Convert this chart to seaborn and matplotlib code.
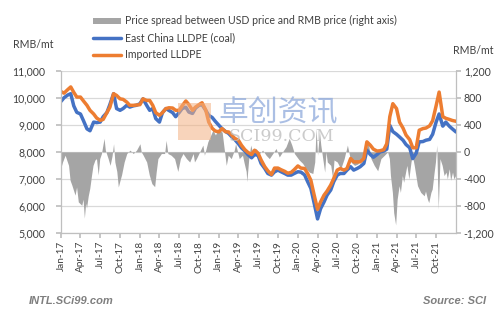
import pandas as pd
import matplotlib
matplotlib.use("Agg")
import matplotlib.pyplot as plt
from matplotlib.ticker import FuncFormatter, FixedLocator
from matplotlib.patches import Patch, Rectangle
from matplotlib.lines import Line2D
import seaborn as sns

# Semi-monthly LLDPE prices, RMB/mt (Jan 2017 - Jan 2022)
price_dates = pd.date_range("2017-01-01", periods=121, freq="SMS")
east_china = [
    9865, 10000, 10100, 10150, 9700, 9460, 9400, 9150, 8850, 8780,
    9100, 9080, 9100, 9300, 9450, 9750, 10150, 9600, 9535, 9600,
    9720, 9655, 9700, 9720, 9780, 9960, 9720, 9535, 9600, 9230,
    9100, 9450, 9600, 9530, 9450, 9300, 9450, 9600, 9650, 9470,
    9420, 9620, 9720, 9745, 9535, 9350, 9270, 9130, 8980, 8860,
    8750, 8680, 8560, 8460, 8300, 8150, 8030, 7900, 7780, 7900,
    7870, 7570, 7385, 7200, 7140, 7260, 7325, 7265, 7200, 7140,
    7140, 7200, 7265, 7250, 7150, 6900, 6650, 6150, 5520, 5900,
    6150, 6400, 6590, 6900, 7140, 7200, 7200, 7325, 7450, 7325,
    7385, 7450, 7570, 8060, 7900, 7800, 7900, 8000, 8030, 8100,
    8980, 8750, 8650, 8550, 8430, 8270, 8150, 7750, 7950, 8370,
    8380, 8430, 8460, 8650, 9100, 9400, 8950, 9100, 8950, 8850,
    8735,
]
imported = [
    10230, 10170, 10300, 10400, 10200, 10025, 10025, 9880, 9720, 9535,
    9400, 9250, 9165, 9200, 9450, 9650, 10150, 10085, 9960, 9940,
    9840, 9720, 9720, 9730, 9745, 9960, 9900, 9900, 9720, 9450,
    9350, 9450, 9600, 9630, 9620, 9535, 9535, 9700, 9880, 9750,
    9535, 9655, 9745, 9815, 9550, 9100, 8870, 8770, 8740, 8860,
    8740, 8735, 8620, 8500, 8430, 8245, 8080, 7980, 7900, 8060,
    7950, 7700, 7450, 7300, 7160, 7400, 7400, 7340, 7280, 7210,
    7240, 7340, 7480, 7400, 7385, 7200, 6950, 6450, 5870, 6150,
    6400, 6550, 6775, 7020, 7325, 7385, 7325, 7385, 7755, 7630,
    7630, 7630, 7755, 8370, 8245, 8100, 8030, 8040, 8080, 8300,
    9300, 9780, 9600, 9100, 8880, 8620, 8450, 8150, 8150, 8800,
    8860, 8880, 8960, 9150, 9700, 10210, 9300, 9240, 9200, 9160,
    9130,
]

# Spread between USD-based and RMB price, RMB/mt (right axis)
spread_dates = [
    "2017-01-02", "2017-01-08", "2017-01-20", "2017-02-05", "2017-02-12",
    "2017-02-20", "2017-03-07", "2017-03-14", "2017-03-22", "2017-04-07",
    "2017-04-13", "2017-04-19", "2017-04-25", "2017-04-29", "2017-05-07",
    "2017-05-14", "2017-05-22", "2017-05-29", "2017-06-07", "2017-06-14",
    "2017-06-22", "2017-06-29", "2017-07-07", "2017-07-19", "2017-07-25",
    "2017-08-07", "2017-08-16", "2017-08-25", "2017-09-01", "2017-09-07",
    "2017-09-16", "2017-09-23", "2017-10-01", "2017-10-08", "2017-10-20",
    "2017-11-01", "2017-11-16", "2017-12-01", "2017-12-16", "2018-01-01",
    "2018-01-07", "2018-01-16", "2018-02-01", "2018-02-13", "2018-02-25",
    "2018-03-10", "2018-03-17", "2018-03-25", "2018-04-10", "2018-04-25",
    "2018-05-02", "2018-05-10", "2018-05-25", "2018-06-10", "2018-06-25",
    "2018-07-07", "2018-07-19", "2018-08-04", "2018-08-19", "2018-09-04",
    "2018-09-10", "2018-09-19", "2018-10-04", "2018-10-19", "2018-10-26",
    "2018-11-11", "2018-12-04", "2018-12-16", "2018-12-28", "2019-01-16",
    "2019-01-28", "2019-02-04", "2019-02-13", "2019-02-27", "2019-03-13",
    "2019-03-19", "2019-04-05", "2019-04-20", "2019-04-28", "2019-05-07",
    "2019-05-10", "2019-05-19", "2019-05-28", "2019-06-07", "2019-06-22",
    "2019-07-07", "2019-07-22", "2019-08-07", "2019-08-22", "2019-09-07",
    "2019-09-22", "2019-10-07", "2019-10-22", "2019-11-07", "2019-11-22",
    "2019-12-04", "2019-12-16", "2020-01-07", "2020-01-23", "2020-02-08",
    "2020-02-23", "2020-03-10", "2020-03-19", "2020-03-25", "2020-04-01",
    "2020-04-10", "2020-04-16", "2020-04-25", "2020-05-04", "2020-05-10",
    "2020-05-16", "2020-06-01", "2020-06-10", "2020-06-16", "2020-07-01",
    "2020-07-17", "2020-08-02", "2020-08-17", "2020-09-02", "2020-09-19",
    "2020-10-04", "2020-10-19", "2020-11-04", "2020-11-19", "2020-12-04",
    "2020-12-19", "2021-01-04", "2021-01-19", "2021-02-04", "2021-02-19",
    "2021-02-27", "2021-03-04", "2021-03-13", "2021-03-19", "2021-03-28",
    "2021-04-04", "2021-04-13", "2021-04-19", "2021-04-28", "2021-05-04",
    "2021-05-13", "2021-05-19", "2021-05-28", "2021-06-07", "2021-06-13",
    "2021-06-22", "2021-07-07", "2021-07-22", "2021-08-07", "2021-08-13",
    "2021-08-22", "2021-08-28", "2021-09-07", "2021-09-13", "2021-09-22",
    "2021-09-28", "2021-10-04", "2021-10-11", "2021-10-19", "2021-10-29",
    "2021-11-07", "2021-11-16", "2021-11-22", "2021-12-01", "2021-12-07",
    "2021-12-16", "2021-12-22", "2021-12-30",
]
spread = [
    -220, -150, -50, -200, -420,
    -490, -640, -520, -740, -790,
    -700, -980, -760, -830, -650,
    -540, -350, -200, -120, -100,
    -340, -100, -25, 200, 25,
    -100, -200, -60, 120, -150,
    -290, -520, -420, -340, -150,
    -25, 25, -25, 25, 120,
    0, -50, -150, -340, -470,
    -515, -300, -100, -25, -25,
    170, -25, -50, -100, -290,
    -100, -25, -100, -150, -25,
    -150, -100, 0, 100, -50,
    150, 320, 250, 340, 290,
    -25, -200, -50, -100, 25,
    120, -100, -50, -170, -290,
    -440, -100, 100, -25, 50,
    -25, 25, -50, -100, -25,
    50, -75, 0, 75, 200,
    100, -25, -120, -170, -250,
    -300, -320, -150, 350, -50,
    300, 100, -100, -300, 0,
    -150, -200, -400, -120, -150,
    -250, -100, 100, -150, -200,
    -180, -100, -150, 170, -100,
    -200, -280, -100, -50, 0,
    -100, -350, -600, -900, -1080,
    -700, -500, -600, -350, -450,
    -300, -200, -400, -150, -50,
    -200, -500, -600, -650, -580,
    -700, -750, -600, -550, -300,
    -150, 100, -850, -100, -200,
    -350, -300, -400, -250, -420,
    -300, -400, -350,
]

quarter_ticks = pd.date_range("2017-01-01", "2021-10-01", freq="QS")

BLUE = "#4472C4"
ORANGE = "#ED7D31"
GREY = "#A5A5A5"
GRID = "#D9D9D9"
TEXT = "#404040"

sns.set_theme(style="white")
plt.rcParams["font.family"] = ["Lato", "DejaVu Sans"]

fig = plt.figure(figsize=(4.99, 3.21), dpi=100)
ax = fig.add_axes([61 / 499, 1 - 233 / 321, 395 / 499, 162.3 / 321])
ax2 = ax.twinx()
ax.set_zorder(ax2.get_zorder() + 1)
ax.patch.set_visible(False)

# Spread area on the right axis, behind the price lines
spread_x = pd.to_datetime(spread_dates)
ax2.fill_between(spread_x, spread, 0, color=GREY, linewidth=0)
ax2.set_ylim(-1200, 1200)
ax2.yaxis.set_major_locator(FixedLocator(range(-1200, 1201, 400)))
ax2.yaxis.grid(True, color=GRID, linewidth=0.9)
ax2.set_axisbelow(True)

prices = pd.DataFrame({"date": price_dates, "east": east_china, "imp": imported})
sns.lineplot(data=prices, x="date", y="east", ax=ax, color=BLUE, linewidth=2.5)
sns.lineplot(data=prices, x="date", y="imp", ax=ax, color=ORANGE, linewidth=2.5)

ax.set_ylim(5000, 11000)
ax.yaxis.set_major_locator(FixedLocator(range(5000, 11001, 1000)))
ax.set_xlim(pd.Timestamp("2017-01-01"), pd.Timestamp("2022-01-01"))
ax.set_xticks(quarter_ticks)
ax.set_xticklabels([d.strftime("%b-%y") for d in quarter_ticks], rotation=90)
ax.set_xlabel("")
ax.set_ylabel("")
ax2.set_ylabel("")

thousands = FuncFormatter(lambda v, _: f"{v:,.0f}")
ax.yaxis.set_major_formatter(thousands)
ax2.yaxis.set_major_formatter(thousands)

for a in (ax, ax2):
    for side in a.spines:
        a.spines[side].set_visible(False)
ax.spines["left"].set_visible(True)
ax.spines["bottom"].set_visible(True)
ax2.spines["right"].set_visible(True)
for sp in (ax.spines["left"], ax.spines["bottom"], ax2.spines["right"]):
    sp.set_color("#BFBFBF")
    sp.set_linewidth(0.9)

ax.tick_params(axis="y", which="major", length=3.6, color="#BFBFBF", labelsize=7.6,
               labelcolor=TEXT, pad=7.5, left=True)
ax.tick_params(axis="x", which="major", length=3.6, color="#BFBFBF", labelsize=7.2,
               labelcolor=TEXT, pad=2, bottom=True)
ax2.tick_params(axis="y", which="major", length=3.6, color="#BFBFBF", labelsize=7.6,
                labelcolor=TEXT, pad=2, right=True)

# Axis unit labels
fig.text(13 / 499, 1 - 45 / 321, "RMB/mt", fontsize=7.6, color=TEXT, va="center", ha="left")
fig.text(453 / 499, 1 - 50 / 321, "RMB/mt", fontsize=7.6, color=TEXT, va="center", ha="left")

# Legend
handles = [
    Patch(facecolor=GREY, edgecolor="none"),
    Line2D([], [], color=BLUE, linewidth=2.5),
    Line2D([], [], color=ORANGE, linewidth=2.5),
]
labels = [
    "Price spread between USD price and RMB price (right axis)",
    "East China LLDPE (coal)",
    "Imported LLDPE",
]
fig.legend(handles, labels, loc="upper left", bbox_to_anchor=(86 / 499, 1 - 8 / 321),
           frameon=False, fontsize=7.6, handlelength=2.6, handleheight=0.5,
           handletextpad=0.35, labelspacing=0.55, borderpad=0.2,
           labelcolor=TEXT)

# Watermark
fig.patches.append(Rectangle((178 / 499, 1 - 140 / 321), 33 / 499, 37 / 321,
                             transform=fig.transFigure, facecolor="#F4B183",
                             alpha=0.55, edgecolor="none", zorder=5))
fig.text(278 / 499, 1 - 113 / 321, "卓创资讯", fontsize=21.5, color="#8FAADC", alpha=0.75,
         ha="center", va="center", family=["Noto Sans CJK SC", "DejaVu Sans"], zorder=6)
fig.text(281 / 499, 1 - 136.5 / 321, "SCI99.COM", fontsize=12.5, color="#BFBFBF", alpha=0.8,
         ha="center", va="center", family=["DejaVu Serif"], zorder=6)

# Footer
fig.text(29 / 499, 1 - 301 / 321, "INTL.SCi99.com", fontsize=8, color="#7F7F7F",
         fontweight="bold", fontstyle="italic", ha="left", va="center",
         family=["Liberation Sans", "DejaVu Sans"])
fig.text(486 / 499, 1 - 301 / 321, "Source: SCI", fontsize=8, color="#7F7F7F",
         fontweight="bold", fontstyle="italic", ha="right", va="center",
         family=["Liberation Sans", "DejaVu Sans"])

fig.savefig("out.png", dpi=100)
